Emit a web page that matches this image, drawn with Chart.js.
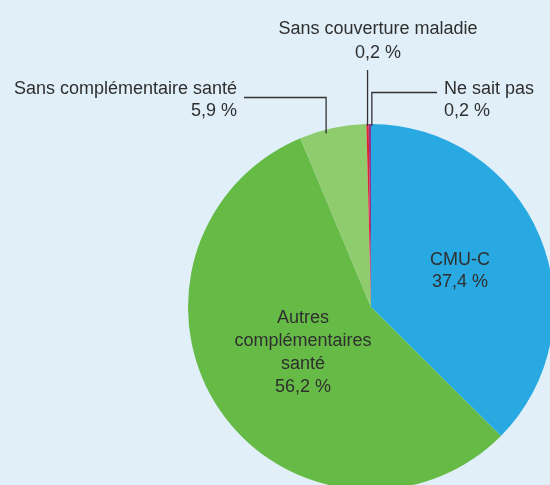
<!DOCTYPE html>
<html><head><meta charset="utf-8">
<script src="https://cdn.jsdelivr.net/npm/chart.js@4"></script>
<style>
html,body{margin:0;padding:0;background:#E1EFF9;overflow:hidden;width:550px;height:485px;}
#wrap{position:absolute;left:0;top:0;width:560px;height:500px;}
</style></head><body>
<div id="wrap"><canvas id="c" width="560" height="500"></canvas></div>
<script>
const categories = ["CMU-C", "Autres complémentaires santé", "Sans complémentaire santé", "Sans couverture maladie", "Ne sait pas"];
const values = [37.4, 56.2, 5.9, 0.2, 0.2];
const valueLabels = ["37,4 %", "56,2 %", "5,9 %", "0,2 %", "0,2 %"];
const colors = ["#29A9E1", "#66BB46", "#8FCC6E", "#E5222C", "#8E3591"];

const FONT = '18px "Liberation Sans", Arial, sans-serif';
const TXT = '#2f2f2f';

const labelPlugin = {
  id: 'labels',
  afterDatasetsDraw(chart) {
    const ctx = chart.ctx;
    const arcs = chart.getDatasetMeta(0).data;
    const pt = (i, f, rf) => {
      const a = arcs[i];
      const ang = a.startAngle + (a.endAngle - a.startAngle) * f;
      const r = a.outerRadius * rf;
      return {x: a.x + Math.cos(ang) * r, y: a.y + Math.sin(ang) * r};
    };
    ctx.save();
    ctx.font = FONT;
    ctx.fillStyle = TXT;
    ctx.textBaseline = 'middle';
    ctx.textAlign = 'center';
    ctx.fillText(categories[0], 460, 260);
    ctx.fillText(valueLabels[0], 460, 282);
    ["Autres", "complémentaires", "santé", valueLabels[1]].forEach((t, k) => ctx.fillText(t, 303, 318 + 23 * k));
    ctx.fillText(categories[3], 378, 29);
    ctx.fillText(valueLabels[3], 378, 53);
    ctx.textAlign = 'right';
    ctx.fillText(categories[2], 237, 89);
    ctx.fillText(valueLabels[2], 237, 111);
    ctx.textAlign = 'left';
    ctx.fillText(categories[4], 444, 89);
    ctx.fillText(valueLabels[4], 444, 111);
    ctx.strokeStyle = '#333';
    ctx.lineWidth = 1.3;
    ctx.beginPath();
    let q = pt(2, 0.4, 1);
    ctx.moveTo(244, 97.5); ctx.lineTo(q.x, 97.5); ctx.lineTo(q.x, q.y + 4);
    q = pt(3, 0.5, 1);
    ctx.moveTo(q.x, 70); ctx.lineTo(q.x, q.y + 2);
    q = pt(4, 0.5, 1);
    ctx.moveTo(437, 92.5); ctx.lineTo(q.x + 2, 92.5); ctx.lineTo(q.x + 2, q.y + 2);
    ctx.stroke();
    ctx.restore();
  }
};

new Chart(document.getElementById('c'), {
  type: 'pie',
  data: { labels: categories, datasets: [{ data: values, backgroundColor: colors, borderWidth: 0 }] },
  options: {
    responsive: false, animation: false,
    layout: { padding: { left: 188, right: 6, top: 124, bottom: 10 } },
    plugins: { legend: { display: false }, tooltip: { enabled: false } }
  },
  plugins: [labelPlugin]
});
</script></body></html>
